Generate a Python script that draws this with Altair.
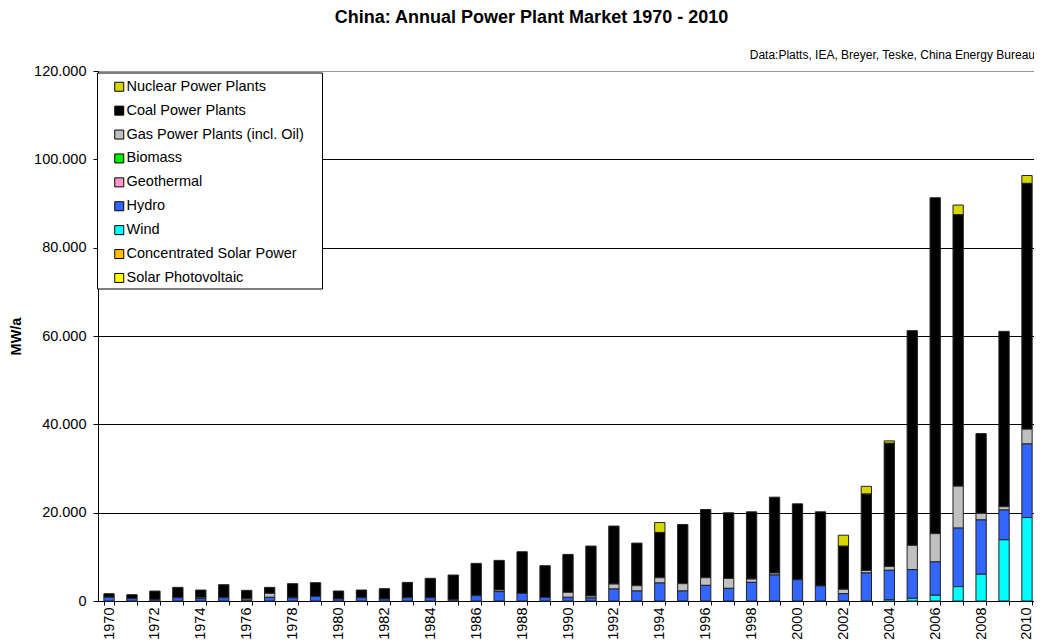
import altair as alt
import pandas as pd

YEARS = list(range(1970, 2011))

SERIES = ["Nuclear Power Plants", "Coal Power Plants", "Gas Power Plants (incl. Oil)",
          "Biomass", "Geothermal", "Hydro", "Wind",
          "Concentrated Solar Power", "Solar Photovoltaic"]
COLORS = ["#D6D600", "#000000", "#C0C0C0", "#00EE00", "#FF99CC",
          "#3366FF", "#00FFFF", "#FFC000", "#FFFF00"]
# stacking order from the bottom (0) to the top
STACK_RANK = [8, 7, 6, 5, 4, 3, 2, 1, 0]

# MW per year, 1970 ... 2010
nuclear = [0, 0, 0, 0, 0, 0, 0, 0, 0, 0,
           0, 0, 0, 0, 0, 0, 0, 0, 0, 0,
           0, 0, 0, 0, 2260, 0, 0, 0, 0, 0,
           0, 0, 2500, 1750, 550, 0, 0, 2200, 0, 0, 1800]
coal = [800, 900, 1950, 2340, 1650, 2940, 1860, 1360, 3090, 3090,
        1810, 1740, 2340, 3470, 4380, 5580, 7320, 6710, 9420, 7160,
        8590, 11310, 13120, 9650, 10250, 13410, 15450, 14850, 15220, 17180,
        17180, 16790, 9750, 17310, 27900, 48610, 76050, 61450, 18050, 39700, 55650]
gas = [0, 0, 0, 0, 300, 0, 350, 900, 150, 0,
       0, 0, 0, 0, 0, 0, 0, 380, 0, 0,
       1130, 450, 1130, 1200, 1200, 1660, 1730, 2260, 750, 450,
       0, 0, 1000, 550, 850, 5500, 6400, 9500, 1500, 750, 3350]
biomass = [0, 0, 0, 0, 0, 0, 0, 0, 0, 0,
           0, 0, 0, 0, 0, 0, 0, 0, 0, 0,
           0, 0, 0, 0, 0, 0, 0, 0, 0, 0,
           0, 0, 0, 0, 0, 0, 0, 0, 0, 0, 0]
geothermal = [0, 0, 0, 0, 0, 0, 0, 0, 0, 0,
              0, 0, 0, 0, 0, 0, 0, 0, 0, 0,
              0, 0, 0, 0, 0, 0, 0, 0, 0, 0,
              0, 0, 0, 0, 0, 0, 0, 0, 0, 0, 0]
hydro = [850, 530, 300, 750, 530, 750, 200, 830, 680, 1050,
         450, 750, 450, 750, 750, 300, 1200, 2110, 1730, 830,
         830, 680, 2710, 2260, 4070, 2260, 3540, 2860, 4220, 5880,
         4820, 3400, 1650, 6350, 6650, 6500, 7550, 13250, 12300, 6750, 16650]
wind = [0, 0, 0, 0, 0, 0, 0, 0, 0, 0,
        0, 0, 0, 0, 0, 0, 0, 0, 0, 0,
        0, 0, 0, 0, 0, 0, 0, 0, 0, 0,
        0, 0, 0, 0, 300, 600, 1300, 3250, 6050, 13850, 18900]
csp = [0, 0, 0, 0, 0, 0, 0, 0, 0, 0,
       0, 0, 0, 0, 0, 0, 0, 0, 0, 0,
       0, 0, 0, 0, 0, 0, 0, 0, 0, 0,
       0, 0, 0, 0, 0, 0, 0, 0, 0, 0, 0]
pv = [0, 0, 0, 0, 0, 0, 0, 0, 0, 0,
      0, 0, 0, 0, 0, 0, 0, 0, 0, 0,
      0, 0, 0, 0, 0, 0, 0, 0, 0, 0,
      0, 0, 0, 0, 0, 0, 0, 0, 0, 0, 0]

TITLE = "China: Annual Power Plant Market 1970 - 2010"
SOURCE = "Data:Platts, IEA, Breyer, Teske, China Energy Bureau"
Y_TITLE = "MW/a"
Y_TICKS = [0, 20000, 40000, 60000, 80000, 100000, 120000]

FONT = "Liberation Sans"

values_by_series = [nuclear, coal, gas, biomass, geothermal, hydro, wind, csp, pv]
rows = []
for name, rank, vals in zip(SERIES, STACK_RANK, values_by_series):
    for yr, v in zip(YEARS, vals):
        if v > 0:
            rows.append({"year": yr, "series": name, "rank": rank, "value": v})
df = pd.DataFrame(rows)

W, H = 936, 530

bars = alt.Chart(df).mark_bar(stroke="#222222", strokeWidth=1).encode(
    x=alt.X("year:O",
            scale=alt.Scale(domain=YEARS, paddingInner=0.551, paddingOuter=0.168, align=0.76),
            axis=alt.Axis(title=None, labelAngle=-90, labelAlign="right",
                          labelBaseline="middle",
                          labelExpr="datum.value % 2 === 0 ? datum.label : ''",
                          tickBand="extent", tickSize=4, labelPadding=2,
                          domainColor="#000000", tickColor="#000000",
                          labelColor="#000000", labelFontSize=14.5, labelFont=FONT,
                          grid=False)),
    y=alt.Y("value:Q", stack="zero",
            scale=alt.Scale(domain=[0, 120000], nice=False),
            axis=alt.Axis(title=Y_TITLE, values=Y_TICKS,
                          labelExpr="replace(format(datum.value, ','), ',', '.')",
                          tickSize=5, labelPadding=7, titlePadding=10,
                          domainColor="#000000", tickColor="#000000",
                          labelColor="#000000", labelFontSize=14.5, labelFont=FONT,
                          titleFont=FONT, titleFontSize=14.5, titleFontWeight="bold",
                          titleColor="#000000",
                          grid=True,
                          gridColor={"condition": {"test": "datum.value === 120000",
                                                   "value": "#999999"},
                                     "value": "#000000"},
                          gridWidth=1)),
    color=alt.Color("series:N",
                    scale=alt.Scale(domain=SERIES, range=COLORS),
                    legend=alt.Legend(title=None, orient="none", legendX=-1, legendY=3.5,
                                      symbolType="square", symbolSize=81,
                                      symbolStrokeColor="#000000", symbolStrokeWidth=1,
                                      labelFontSize=14.5, labelFont=FONT,
                                      labelColor="#000000", labelLimit=300,
                                      labelOffset=0,
                                      padding=5, symbolOffset=10, rowPadding=8.9)),
    order=alt.Order("rank:Q", sort="ascending"),
)

# white frame behind the legend entries
legend_frame = alt.Chart(pd.DataFrame({"k": [0]})).mark_rect(
    fill="#FFFFFF", stroke="#000000", strokeWidth=1
).encode(x=alt.value(-0.5), x2=alt.value(224.5), y=alt.value(2), y2=alt.value(218))

title_text = alt.Chart(pd.DataFrame({"t": [TITLE]})).mark_text(
    font=FONT, fontSize=18, fontWeight="bold", align="center",
    baseline="alphabetic", color="#000000"
).encode(x=alt.value(433.5), y=alt.value(-48.3), text="t:N")

source_text = alt.Chart(pd.DataFrame({"t": [SOURCE]})).mark_text(
    font=FONT, fontSize=12, align="right", baseline="alphabetic", color="#000000"
).encode(x=alt.value(937), y=alt.value(-12), text="t:N")

chart = alt.layer(bars, legend_frame, title_text, source_text).properties(
    width=W, height=H,
    autosize=alt.AutoSizeParams(type="none"),
    padding={"left": 90, "top": 63, "right": 0, "bottom": 41},
).configure_view(stroke=None).configure(background="#FFFFFF")

chart.save("out.html", embed_options={"renderer": "svg", "actions": False})
